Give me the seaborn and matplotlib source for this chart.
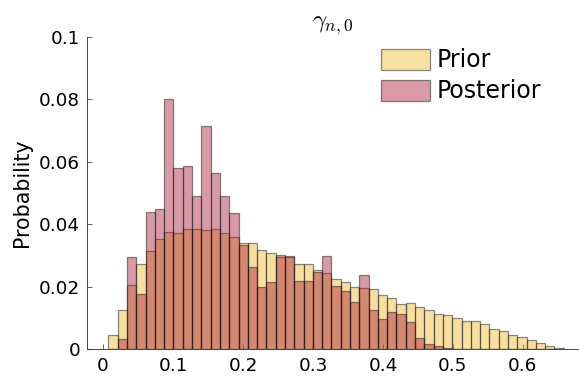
import numpy as np
import pandas as pd
import matplotlib
matplotlib.use("Agg")
import matplotlib.pyplot as plt
import matplotlib.ticker as mticker
from matplotlib.patches import Patch
import seaborn as sns

# bin layout
BIN_START = 0.0077
BIN_WIDTH = 0.01328

prior = [
    0.0045, 0.0125, 0.0205, 0.0272, 0.0314, 0.0352, 0.0376, 0.0372, 0.0385, 0.0383,
    0.0380, 0.0383, 0.0370, 0.0358, 0.0340, 0.0340, 0.0317, 0.0308, 0.0295, 0.0294,
    0.0271, 0.0271, 0.0253, 0.0244, 0.0223, 0.0215, 0.0197, 0.0194, 0.0192, 0.0172,
    0.0164, 0.0145, 0.0146, 0.0133, 0.0125, 0.0112, 0.0108, 0.0098, 0.0090, 0.0090,
    0.0080, 0.0064, 0.0058, 0.0045, 0.0037, 0.0029, 0.0018, 0.0011, 0.0004,
]
posterior = [
    0.0000, 0.0031, 0.0294, 0.0176, 0.0440, 0.0449, 0.0800, 0.0581, 0.0585, 0.0490,
    0.0714, 0.0563, 0.0490, 0.0435, 0.0333, 0.0264, 0.0200, 0.0216, 0.0300, 0.0298,
    0.0219, 0.0218, 0.0245, 0.0298, 0.0202, 0.0187, 0.0149, 0.0237, 0.0125, 0.0096,
    0.0117, 0.0111, 0.0088, 0.0034, 0.0016, 0.0010, 0.0003, 0.0000, 0.0000, 0.0000,
    0.0000, 0.0000, 0.0000, 0.0000, 0.0000, 0.0000, 0.0000, 0.0000, 0.0000,
]
series_names = ["Prior", "Posterior"]
x_ticks = [0, 0.1, 0.2, 0.3, 0.4, 0.5, 0.6]
y_ticks = [0, 0.02, 0.04, 0.06, 0.08, 0.1]

FACES = {
    "Prior": (0.933, 0.702, 0.122, 0.42),
    "Posterior": (0.635, 0.063, 0.184, 0.42),
}
EDGE = (0.1, 0.1, 0.1, 0.5)
AXCOL = "#262626"

sns.set_style("ticks")
plt.rcParams["font.family"] = ["DejaVu Sans"]
plt.rcParams["mathtext.fontset"] = "cm"

n_bins = len(prior)
bin_lo, bin_hi = BIN_START, BIN_START + BIN_WIDTH * n_bins
centers = BIN_START + BIN_WIDTH * (np.arange(n_bins) + 0.5)
df = pd.DataFrame({"center": centers, "Prior": prior, "Posterior": posterior})

fig, ax = plt.subplots(figsize=(5.79, 3.77), dpi=100)
fig.subplots_adjust(left=0.1503, right=0.998, bottom=0.0743, top=0.9027)

for name in series_names:
    n_before = len(ax.patches)
    sns.histplot(data=df, x="center", weights=name, bins=n_bins,
                 binrange=(bin_lo, bin_hi), ax=ax)
    for p in ax.patches[n_before:]:
        p.set_alpha(None)
        p.set_facecolor(FACES[name])
        p.set_edgecolor(EDGE)
        p.set_linewidth(0.9)

ax.set_xlim(-0.0229, 0.6786)
ax.set_ylim(0, 0.1)
ax.set_xticks(x_ticks)
ax.set_yticks(y_ticks)
fmt = mticker.FuncFormatter(lambda v, _: f"{v:g}")
ax.xaxis.set_major_formatter(fmt)
ax.yaxis.set_major_formatter(fmt)
ax.tick_params(direction="in", length=3.6, width=0.5, color=AXCOL,
               labelsize=13.2, labelcolor="black")
ax.tick_params(axis="x", pad=6)
ax.tick_params(axis="y", pad=5)
ax.spines[["top", "right"]].set_visible(False)
for s in ["left", "bottom"]:
    ax.spines[s].set_color(AXCOL)
    ax.spines[s].set_linewidth(0.6)

ax.set_xlabel("")
ax.set_ylabel("Probability", fontsize=14.8, labelpad=5, color="black")
ax.set_title(r"$\gamma_{n,0}$", fontsize=18, pad=5, color="black")

handles = [Patch(facecolor=FACES[n], edgecolor=EDGE, linewidth=0.9, label=n)
           for n in series_names]
ax.legend(handles=handles, loc="upper left", bbox_to_anchor=(0.599, 0.963),
          frameon=False, fontsize=17, handlelength=2.08, handleheight=1.0,
          handletextpad=0.26, labelspacing=0.3, borderpad=0, borderaxespad=0,
          labelcolor="black")

fig.savefig("out.png", dpi=100)
